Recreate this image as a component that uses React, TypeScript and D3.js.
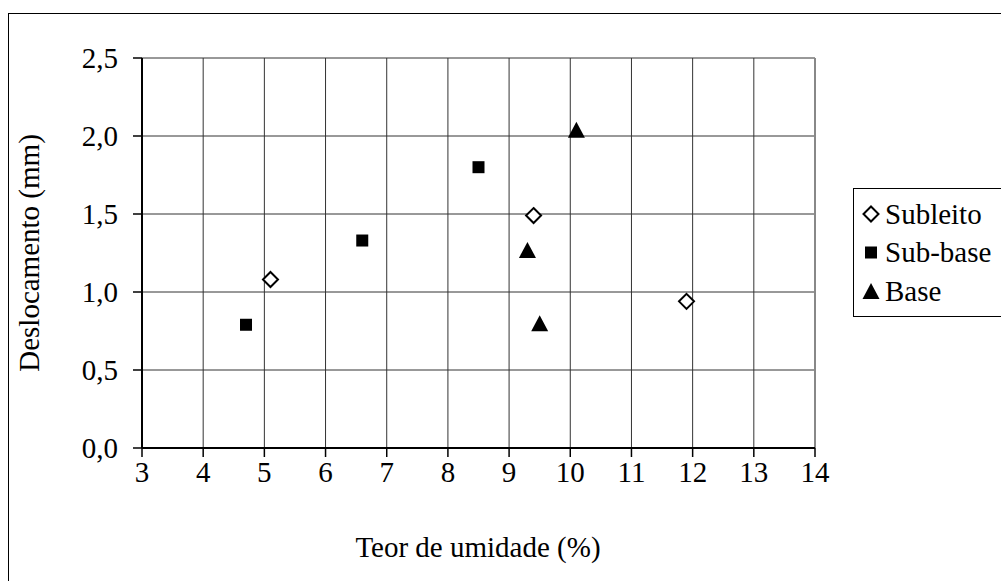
import React from "react";
import * as d3 from "d3";

// Moisture content (%) vs. displacement (mm) for each pavement layer
const subleitoX = [5.1, 9.4, 11.9];
const subleitoY = [1.08, 1.49, 0.94];
const subbaseX = [4.7, 6.6, 8.5];
const subbaseY = [0.79, 1.33, 1.8];
const baseX = [9.3, 9.5, 10.1];
const baseY = [1.27, 0.8, 2.04];

const xTicks = [3, 4, 5, 6, 7, 8, 9, 10, 11, 12, 13, 14];
const yTicks = [0, 0.5, 1.0, 1.5, 2.0, 2.5];

const seriesNames = ["Subleito", "Sub-base", "Base"];

const W = 1001;
const H = 581;
const FONT = "'Liberation Serif', 'Times New Roman', Times, serif";
const FS = 29;
const textStyle = { fontFamily: FONT, fontSize: FS };

function Marker({ kind, x, y }: { kind: number; x: number; y: number }) {
  if (kind === 0) {
    const r = 7.5;
    return (
      <path
        d={`M${x},${y - r}L${x + r},${y}L${x},${y + r}L${x - r},${y}Z`}
        fill="#fff"
        stroke="#000"
        strokeWidth={2}
      />
    );
  }
  if (kind === 1) {
    const s = 12;
    return <rect x={x - s / 2} y={y - s / 2} width={s} height={s} fill="#000" />;
  }
  const h = 16;
  const w = 17;
  return (
    <path
      d={`M${x},${y - h / 2}L${x + w / 2},${y + h / 2}L${x - w / 2},${y + h / 2}Z`}
      fill="#000"
    />
  );
}

export default function App() {
  const x = d3.scaleLinear().domain([3, 14]).range([142, 815]);
  const y = d3.scaleLinear().domain([0, 2.5]).range([448, 58]);
  const fmt = (v: number) => d3.format(".1f")(v).replace(".", ",");

  const series = [
    { xs: subleitoX, ys: subleitoY },
    { xs: subbaseX, ys: subbaseY },
    { xs: baseX, ys: baseY },
  ];

  return (
    <svg
      width={W}
      height={H}
      style={{ position: "absolute", left: 0, top: 0, background: "#fff" }}
    >
      <rect x={0} y={0} width={W} height={H} fill="#fff" />
      {/* chart border */}
      <rect x={8.5} y={13.5} width={W + 20} height={H + 20} fill="none" stroke="#000" strokeWidth={1} />

      {/* gridlines */}
      {xTicks.map((t) => (
        <line key={`gx${t}`} x1={x(t)} x2={x(t)} y1={y(2.5)} y2={y(0)} stroke="#333" strokeWidth={1} />
      ))}
      {yTicks.map((t) => (
        <line key={`gy${t}`} x1={x(3)} x2={x(14)} y1={y(t)} y2={y(t)} stroke="#333" strokeWidth={1} />
      ))}
      {/* plot area right edge */}
      <line x1={x(14)} x2={x(14)} y1={y(2.5)} y2={y(0)} stroke="#888" strokeWidth={2} />

      {/* axes */}
      <line x1={x(3)} x2={x(3)} y1={y(2.5)} y2={y(0)} stroke="#000" strokeWidth={2} />
      <line x1={x(3)} x2={x(14)} y1={y(0)} y2={y(0)} stroke="#000" strokeWidth={2} />
      {xTicks.map((t) => (
        <g key={`tx${t}`}>
          <line x1={x(t)} x2={x(t)} y1={y(0)} y2={y(0) + 9} stroke="#000" strokeWidth={1.5} />
          <text x={x(t)} y={y(0) + 34} textAnchor="middle" style={textStyle}>
            {t}
          </text>
        </g>
      ))}
      {yTicks.map((t) => (
        <g key={`ty${t}`}>
          <line x1={x(3) - 9} x2={x(3)} y1={y(t)} y2={y(t)} stroke="#000" strokeWidth={1.5} />
          <text x={x(3) - 24} y={y(t)} dy="0.33em" textAnchor="end" style={textStyle}>
            {fmt(t)}
          </text>
        </g>
      ))}

      {/* axis titles */}
      <text x={478} y={557} textAnchor="middle" style={textStyle}>
        Teor de umidade (%)
      </text>
      <text transform={`translate(39,${253}) rotate(-90)`} textAnchor="middle" style={textStyle}>
        Deslocamento (mm)
      </text>

      {/* data */}
      {series.map((s, i) =>
        s.xs.map((v, j) => <Marker key={`m${i}-${j}`} kind={i} x={x(v)} y={y(s.ys[j])} />)
      )}

      {/* legend */}
      <rect x={853.5} y={188.5} width={200} height={128} fill="#fff" stroke="#000" strokeWidth={1} />
      {seriesNames.map((name, i) => {
        const ly = 214 + i * 38.5;
        return (
          <g key={name}>
            <Marker kind={i} x={871} y={ly} />
            <text x={885} y={ly} dy="0.33em" style={textStyle}>
              {name}
            </text>
          </g>
        );
      })}
    </svg>
  );
}
